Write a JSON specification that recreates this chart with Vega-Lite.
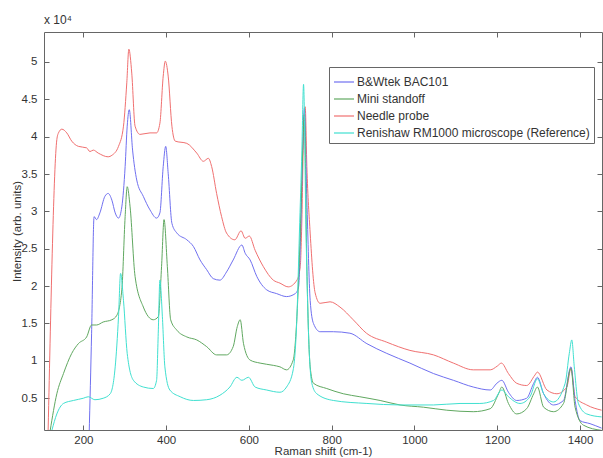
{
"$schema": "https://vega.github.io/schema/vega-lite/v6.json",
"width": 558, "height": 398,
"autosize": {"type": "none"},
"padding": {"left": 44, "top": 32, "right": 1, "bottom": 28},
"background": "white",
"title": {"text": "x 10⁴", "anchor": "start", "frame": "group", "fontSize": 12, "fontWeight": "normal", "font": "Liberation Sans", "color": "#333", "offset": 5},
"config": {
  "view": {"stroke": "#666", "strokeWidth": 1},
  "font": "Liberation Sans",
  "axis": {"domain": false, "grid": false, "tickColor": "#666", "labelColor": "#333", "titleColor": "#333", "labelFontSize": 11.5, "titleFontSize": 11.5, "titleFontWeight": "normal", "tickSize": -5}
},
"data": {"values": [
{"probe":"Needle probe","shift":115,"intensity":700},{"probe":"Needle probe","shift":136,"intensity":39600},{"probe":"Needle probe","shift":140,"intensity":40500},{"probe":"Needle probe","shift":148,"intensity":41000},{"probe":"Needle probe","shift":160,"intensity":40500},{"probe":"Needle probe","shift":172,"intensity":39400},{"probe":"Needle probe","shift":188,"intensity":38700},{"probe":"Needle probe","shift":208,"intensity":38500},{"probe":"Needle probe","shift":216,"intensity":38000},{"probe":"Needle probe","shift":224,"intensity":38200},{"probe":"Needle probe","shift":236,"intensity":37800},{"probe":"Needle probe","shift":260,"intensity":37300},{"probe":"Needle probe","shift":269,"intensity":37500},{"probe":"Needle probe","shift":285,"intensity":38700},{"probe":"Needle probe","shift":297,"intensity":41400},{"probe":"Needle probe","shift":305,"intensity":47200},{"probe":"Needle probe","shift":310,"intensity":51700},{"probe":"Needle probe","shift":317,"intensity":48500},{"probe":"Needle probe","shift":325,"intensity":41400},{"probe":"Needle probe","shift":337,"intensity":40300},{"probe":"Needle probe","shift":361,"intensity":40500},{"probe":"Needle probe","shift":377,"intensity":40500},{"probe":"Needle probe","shift":385,"intensity":41800},{"probe":"Needle probe","shift":393,"intensity":48100},{"probe":"Needle probe","shift":398,"intensity":50100},{"probe":"Needle probe","shift":405,"intensity":48100},{"probe":"Needle probe","shift":414,"intensity":41400},{"probe":"Needle probe","shift":422,"intensity":39400},{"probe":"Needle probe","shift":450,"intensity":39100},{"probe":"Needle probe","shift":474,"intensity":37800},{"probe":"Needle probe","shift":490,"intensity":36700},{"probe":"Needle probe","shift":502,"intensity":37100},{"probe":"Needle probe","shift":510,"intensity":36000},{"probe":"Needle probe","shift":522,"intensity":32400},{"probe":"Needle probe","shift":534,"intensity":29300},{"probe":"Needle probe","shift":546,"intensity":27100},{"probe":"Needle probe","shift":566,"intensity":26200},{"probe":"Needle probe","shift":581,"intensity":27400},{"probe":"Needle probe","shift":591,"intensity":26400},{"probe":"Needle probe","shift":601,"intensity":26700},{"probe":"Needle probe","shift":615,"intensity":24800},{"probe":"Needle probe","shift":635,"intensity":22600},{"probe":"Needle probe","shift":659,"intensity":20800},{"probe":"Needle probe","shift":675,"intensity":20400},{"probe":"Needle probe","shift":695,"intensity":19900},{"probe":"Needle probe","shift":716,"intensity":20800},{"probe":"Needle probe","shift":724,"intensity":22600},{"probe":"Needle probe","shift":728,"intensity":29000},{"probe":"Needle probe","shift":732,"intensity":40500},{"probe":"Needle probe","shift":736,"intensity":44000},{"probe":"Needle probe","shift":740,"intensity":36000},{"probe":"Needle probe","shift":748,"intensity":27100},{"probe":"Needle probe","shift":760,"intensity":19100},{"probe":"Needle probe","shift":772,"intensity":17700},{"probe":"Needle probe","shift":796,"intensity":17900},{"probe":"Needle probe","shift":820,"intensity":17200},{"probe":"Needle probe","shift":852,"intensity":15500},{"probe":"Needle probe","shift":884,"intensity":13700},{"probe":"Needle probe","shift":933,"intensity":12500},{"probe":"Needle probe","shift":989,"intensity":11400},{"probe":"Needle probe","shift":1046,"intensity":10800},{"probe":"Needle probe","shift":1094,"intensity":9700},{"probe":"Needle probe","shift":1142,"intensity":8800},{"probe":"Needle probe","shift":1183,"intensity":8800},{"probe":"Needle probe","shift":1200,"intensity":9300},{"probe":"Needle probe","shift":1210,"intensity":9700},{"probe":"Needle probe","shift":1227,"intensity":8300},{"probe":"Needle probe","shift":1247,"intensity":7000},{"probe":"Needle probe","shift":1271,"intensity":6700},{"probe":"Needle probe","shift":1291,"intensity":8100},{"probe":"Needle probe","shift":1297,"intensity":8500},{"probe":"Needle probe","shift":1320,"intensity":6100},{"probe":"Needle probe","shift":1344,"intensity":5600},{"probe":"Needle probe","shift":1368,"intensity":6500},{"probe":"Needle probe","shift":1378,"intensity":9000},{"probe":"Needle probe","shift":1388,"intensity":5200},{"probe":"Needle probe","shift":1416,"intensity":4100},{"probe":"Needle probe","shift":1452,"intensity":3400},
{"probe":"B&Wtek BAC101","shift":214,"intensity":0},{"probe":"B&Wtek BAC101","shift":220,"intensity":13700},{"probe":"B&Wtek BAC101","shift":226,"intensity":29300},{"probe":"B&Wtek BAC101","shift":232,"intensity":28900},{"probe":"B&Wtek BAC101","shift":240,"intensity":29800},{"probe":"B&Wtek BAC101","shift":252,"intensity":32000},{"probe":"B&Wtek BAC101","shift":260,"intensity":32400},{"probe":"B&Wtek BAC101","shift":269,"intensity":31500},{"probe":"B&Wtek BAC101","shift":277,"intensity":29800},{"probe":"B&Wtek BAC101","shift":285,"intensity":29100},{"probe":"B&Wtek BAC101","shift":293,"intensity":30600},{"probe":"B&Wtek BAC101","shift":301,"intensity":36000},{"probe":"B&Wtek BAC101","shift":306,"intensity":41400},{"probe":"B&Wtek BAC101","shift":311,"intensity":43600},{"probe":"B&Wtek BAC101","shift":319,"intensity":38200},{"probe":"B&Wtek BAC101","shift":329,"intensity":34200},{"probe":"B&Wtek BAC101","shift":345,"intensity":32000},{"probe":"B&Wtek BAC101","shift":361,"intensity":30200},{"probe":"B&Wtek BAC101","shift":377,"intensity":29100},{"probe":"B&Wtek BAC101","shift":385,"intensity":29800},{"probe":"B&Wtek BAC101","shift":393,"intensity":36000},{"probe":"B&Wtek BAC101","shift":399,"intensity":38700},{"probe":"B&Wtek BAC101","shift":405,"intensity":35100},{"probe":"B&Wtek BAC101","shift":414,"intensity":28400},{"probe":"B&Wtek BAC101","shift":426,"intensity":27100},{"probe":"B&Wtek BAC101","shift":450,"intensity":26200},{"probe":"B&Wtek BAC101","shift":466,"intensity":25300},{"probe":"B&Wtek BAC101","shift":482,"intensity":23500},{"probe":"B&Wtek BAC101","shift":498,"intensity":22200},{"probe":"B&Wtek BAC101","shift":514,"intensity":21000},{"probe":"B&Wtek BAC101","shift":530,"intensity":20800},{"probe":"B&Wtek BAC101","shift":546,"intensity":21900},{"probe":"B&Wtek BAC101","shift":562,"intensity":23500},{"probe":"B&Wtek BAC101","shift":583,"intensity":25500},{"probe":"B&Wtek BAC101","shift":591,"intensity":24400},{"probe":"B&Wtek BAC101","shift":603,"intensity":23500},{"probe":"B&Wtek BAC101","shift":619,"intensity":21300},{"probe":"B&Wtek BAC101","shift":643,"intensity":19500},{"probe":"B&Wtek BAC101","shift":667,"intensity":19000},{"probe":"B&Wtek BAC101","shift":691,"intensity":18600},{"probe":"B&Wtek BAC101","shift":712,"intensity":19000},{"probe":"B&Wtek BAC101","shift":720,"intensity":19900},{"probe":"B&Wtek BAC101","shift":725,"intensity":27100},{"probe":"B&Wtek BAC101","shift":730,"intensity":38200},{"probe":"B&Wtek BAC101","shift":734,"intensity":43800},{"probe":"B&Wtek BAC101","shift":740,"intensity":31500},{"probe":"B&Wtek BAC101","shift":748,"intensity":18100},{"probe":"B&Wtek BAC101","shift":756,"intensity":15000},{"probe":"B&Wtek BAC101","shift":772,"intensity":13900},{"probe":"B&Wtek BAC101","shift":804,"intensity":13900},{"probe":"B&Wtek BAC101","shift":844,"intensity":13700},{"probe":"B&Wtek BAC101","shift":885,"intensity":12300},{"probe":"B&Wtek BAC101","shift":933,"intensity":11000},{"probe":"B&Wtek BAC101","shift":989,"intensity":9700},{"probe":"B&Wtek BAC101","shift":1046,"intensity":8300},{"probe":"B&Wtek BAC101","shift":1094,"intensity":7400},{"probe":"B&Wtek BAC101","shift":1142,"intensity":6500},{"probe":"B&Wtek BAC101","shift":1183,"intensity":6100},{"probe":"B&Wtek BAC101","shift":1199,"intensity":7000},{"probe":"B&Wtek BAC101","shift":1211,"intensity":7400},{"probe":"B&Wtek BAC101","shift":1227,"intensity":5800},{"probe":"B&Wtek BAC101","shift":1247,"intensity":4700},{"probe":"B&Wtek BAC101","shift":1271,"intensity":5000},{"probe":"B&Wtek BAC101","shift":1288,"intensity":7000},{"probe":"B&Wtek BAC101","shift":1297,"intensity":7800},{"probe":"B&Wtek BAC101","shift":1312,"intensity":5600},{"probe":"B&Wtek BAC101","shift":1336,"intensity":4100},{"probe":"B&Wtek BAC101","shift":1360,"intensity":4700},{"probe":"B&Wtek BAC101","shift":1378,"intensity":9200},{"probe":"B&Wtek BAC101","shift":1388,"intensity":4700},{"probe":"B&Wtek BAC101","shift":1400,"intensity":2000},{"probe":"B&Wtek BAC101","shift":1424,"intensity":1600},{"probe":"B&Wtek BAC101","shift":1452,"intensity":1000},
{"probe":"Mini standoff","shift":120,"intensity":700},{"probe":"Mini standoff","shift":136,"intensity":5600},{"probe":"Mini standoff","shift":152,"intensity":8300},{"probe":"Mini standoff","shift":172,"intensity":11000},{"probe":"Mini standoff","shift":188,"intensity":12300},{"probe":"Mini standoff","shift":208,"intensity":13200},{"probe":"Mini standoff","shift":220,"intensity":14800},{"probe":"Mini standoff","shift":232,"intensity":14800},{"probe":"Mini standoff","shift":248,"intensity":15200},{"probe":"Mini standoff","shift":269,"intensity":15500},{"probe":"Mini standoff","shift":281,"intensity":16100},{"probe":"Mini standoff","shift":293,"intensity":19500},{"probe":"Mini standoff","shift":301,"intensity":29300},{"probe":"Mini standoff","shift":306,"intensity":33300},{"probe":"Mini standoff","shift":313,"intensity":30600},{"probe":"Mini standoff","shift":325,"intensity":21300},{"probe":"Mini standoff","shift":345,"intensity":17200},{"probe":"Mini standoff","shift":369,"intensity":15500},{"probe":"Mini standoff","shift":381,"intensity":15900},{"probe":"Mini standoff","shift":389,"intensity":22600},{"probe":"Mini standoff","shift":395,"intensity":28900},{"probe":"Mini standoff","shift":403,"intensity":22600},{"probe":"Mini standoff","shift":411,"intensity":15500},{"probe":"Mini standoff","shift":426,"intensity":14100},{"probe":"Mini standoff","shift":450,"intensity":13200},{"probe":"Mini standoff","shift":474,"intensity":12800},{"probe":"Mini standoff","shift":498,"intensity":11900},{"probe":"Mini standoff","shift":522,"intensity":10800},{"probe":"Mini standoff","shift":546,"intensity":10800},{"probe":"Mini standoff","shift":562,"intensity":11900},{"probe":"Mini standoff","shift":572,"intensity":14600},{"probe":"Mini standoff","shift":579,"intensity":15500},{"probe":"Mini standoff","shift":587,"intensity":12300},{"probe":"Mini standoff","shift":603,"intensity":10100},{"probe":"Mini standoff","shift":627,"intensity":9700},{"probe":"Mini standoff","shift":659,"intensity":9400},{"probe":"Mini standoff","shift":675,"intensity":9200},{"probe":"Mini standoff","shift":691,"intensity":8800},{"probe":"Mini standoff","shift":707,"intensity":10100},{"probe":"Mini standoff","shift":716,"intensity":15900},{"probe":"Mini standoff","shift":724,"intensity":27100},{"probe":"Mini standoff","shift":730,"intensity":38200},{"probe":"Mini standoff","shift":734,"intensity":43000},{"probe":"Mini standoff","shift":740,"intensity":22600},{"probe":"Mini standoff","shift":748,"intensity":9200},{"probe":"Mini standoff","shift":756,"intensity":7000},{"probe":"Mini standoff","shift":788,"intensity":6300},{"probe":"Mini standoff","shift":828,"intensity":5600},{"probe":"Mini standoff","shift":868,"intensity":5200},{"probe":"Mini standoff","shift":917,"intensity":4700},{"probe":"Mini standoff","shift":965,"intensity":4100},{"probe":"Mini standoff","shift":1022,"intensity":3800},{"probe":"Mini standoff","shift":1078,"intensity":3400},{"probe":"Mini standoff","shift":1142,"intensity":3200},{"probe":"Mini standoff","shift":1183,"intensity":3600},{"probe":"Mini standoff","shift":1203,"intensity":5600},{"probe":"Mini standoff","shift":1211,"intensity":6500},{"probe":"Mini standoff","shift":1227,"intensity":4300},{"probe":"Mini standoff","shift":1247,"intensity":2900},{"probe":"Mini standoff","shift":1271,"intensity":3600},{"probe":"Mini standoff","shift":1288,"intensity":5600},{"probe":"Mini standoff","shift":1297,"intensity":6500},{"probe":"Mini standoff","shift":1312,"intensity":3800},{"probe":"Mini standoff","shift":1336,"intensity":3200},{"probe":"Mini standoff","shift":1360,"intensity":4300},{"probe":"Mini standoff","shift":1378,"intensity":9000},{"probe":"Mini standoff","shift":1388,"intensity":3800},{"probe":"Mini standoff","shift":1408,"intensity":1400},{"probe":"Mini standoff","shift":1452,"intensity":700},
{"probe":"Renishaw RM1000 microscope (Reference)","shift":124,"intensity":700},{"probe":"Renishaw RM1000 microscope (Reference)","shift":136,"intensity":2900},{"probe":"Renishaw RM1000 microscope (Reference)","shift":152,"intensity":4300},{"probe":"Renishaw RM1000 microscope (Reference)","shift":176,"intensity":4700},{"probe":"Renishaw RM1000 microscope (Reference)","shift":200,"intensity":5000},{"probe":"Renishaw RM1000 microscope (Reference)","shift":212,"intensity":5200},{"probe":"Renishaw RM1000 microscope (Reference)","shift":228,"intensity":4800},{"probe":"Renishaw RM1000 microscope (Reference)","shift":248,"intensity":5000},{"probe":"Renishaw RM1000 microscope (Reference)","shift":265,"intensity":5600},{"probe":"Renishaw RM1000 microscope (Reference)","shift":277,"intensity":9200},{"probe":"Renishaw RM1000 microscope (Reference)","shift":285,"intensity":15900},{"probe":"Renishaw RM1000 microscope (Reference)","shift":290,"intensity":21700},{"probe":"Renishaw RM1000 microscope (Reference)","shift":297,"intensity":18100},{"probe":"Renishaw RM1000 microscope (Reference)","shift":306,"intensity":11000},{"probe":"Renishaw RM1000 microscope (Reference)","shift":321,"intensity":7400},{"probe":"Renishaw RM1000 microscope (Reference)","shift":345,"intensity":6500},{"probe":"Renishaw RM1000 microscope (Reference)","shift":369,"intensity":6300},{"probe":"Renishaw RM1000 microscope (Reference)","shift":377,"intensity":7400},{"probe":"Renishaw RM1000 microscope (Reference)","shift":381,"intensity":13700},{"probe":"Renishaw RM1000 microscope (Reference)","shift":385,"intensity":20800},{"probe":"Renishaw RM1000 microscope (Reference)","shift":391,"intensity":15900},{"probe":"Renishaw RM1000 microscope (Reference)","shift":397,"intensity":9200},{"probe":"Renishaw RM1000 microscope (Reference)","shift":409,"intensity":6100},{"probe":"Renishaw RM1000 microscope (Reference)","shift":434,"intensity":5200},{"probe":"Renishaw RM1000 microscope (Reference)","shift":466,"intensity":4700},{"probe":"Renishaw RM1000 microscope (Reference)","shift":498,"intensity":4800},{"probe":"Renishaw RM1000 microscope (Reference)","shift":530,"intensity":5400},{"probe":"Renishaw RM1000 microscope (Reference)","shift":554,"intensity":6500},{"probe":"Renishaw RM1000 microscope (Reference)","shift":571,"intensity":7800},{"probe":"Renishaw RM1000 microscope (Reference)","shift":583,"intensity":7400},{"probe":"Renishaw RM1000 microscope (Reference)","shift":599,"intensity":7800},{"probe":"Renishaw RM1000 microscope (Reference)","shift":615,"intensity":6500},{"probe":"Renishaw RM1000 microscope (Reference)","shift":643,"intensity":6100},{"probe":"Renishaw RM1000 microscope (Reference)","shift":675,"intensity":5800},{"probe":"Renishaw RM1000 microscope (Reference)","shift":691,"intensity":6500},{"probe":"Renishaw RM1000 microscope (Reference)","shift":707,"intensity":8800},{"probe":"Renishaw RM1000 microscope (Reference)","shift":716,"intensity":15900},{"probe":"Renishaw RM1000 microscope (Reference)","shift":722,"intensity":27100},{"probe":"Renishaw RM1000 microscope (Reference)","shift":728,"intensity":38200},{"probe":"Renishaw RM1000 microscope (Reference)","shift":732,"intensity":47000},{"probe":"Renishaw RM1000 microscope (Reference)","shift":738,"intensity":27100},{"probe":"Renishaw RM1000 microscope (Reference)","shift":744,"intensity":13700},{"probe":"Renishaw RM1000 microscope (Reference)","shift":752,"intensity":7000},{"probe":"Renishaw RM1000 microscope (Reference)","shift":764,"intensity":5600},{"probe":"Renishaw RM1000 microscope (Reference)","shift":804,"intensity":4700},{"probe":"Renishaw RM1000 microscope (Reference)","shift":885,"intensity":4300},{"probe":"Renishaw RM1000 microscope (Reference)","shift":965,"intensity":4100},{"probe":"Renishaw RM1000 microscope (Reference)","shift":1046,"intensity":4100},{"probe":"Renishaw RM1000 microscope (Reference)","shift":1110,"intensity":4300},{"probe":"Renishaw RM1000 microscope (Reference)","shift":1158,"intensity":4300},{"probe":"Renishaw RM1000 microscope (Reference)","shift":1191,"intensity":4700},{"probe":"Renishaw RM1000 microscope (Reference)","shift":1211,"intensity":6100},{"probe":"Renishaw RM1000 microscope (Reference)","shift":1227,"intensity":5200},{"probe":"Renishaw RM1000 microscope (Reference)","shift":1255,"intensity":4300},{"probe":"Renishaw RM1000 microscope (Reference)","shift":1279,"intensity":5200},{"probe":"Renishaw RM1000 microscope (Reference)","shift":1297,"intensity":7600},{"probe":"Renishaw RM1000 microscope (Reference)","shift":1312,"intensity":5600},{"probe":"Renishaw RM1000 microscope (Reference)","shift":1336,"intensity":4500},{"probe":"Renishaw RM1000 microscope (Reference)","shift":1364,"intensity":7000},{"probe":"Renishaw RM1000 microscope (Reference)","shift":1374,"intensity":11000},{"probe":"Renishaw RM1000 microscope (Reference)","shift":1380,"intensity":12800},{"probe":"Renishaw RM1000 microscope (Reference)","shift":1386,"intensity":9200},{"probe":"Renishaw RM1000 microscope (Reference)","shift":1396,"intensity":4300},{"probe":"Renishaw RM1000 microscope (Reference)","shift":1416,"intensity":2900},{"probe":"Renishaw RM1000 microscope (Reference)","shift":1452,"intensity":2500}
]},
"layer": [
  {
    "mark": {"type": "line", "strokeWidth": 1, "clip": true, "interpolate": "monotone"},
    "encoding": {
      "x": {"field": "shift", "type": "quantitative", "scale": {"domain": [105, 1453], "nice": false, "zero": false},
            "axis": {"title": "Raman shift (cm-1)", "values": [200, 400, 600, 800, 1000, 1200, 1400], "format": "d", "labelPadding": 9, "titlePadding": 0}},
      "y": {"field": "intensity", "type": "quantitative", "scale": {"domain": [750, 54000], "nice": false, "zero": false},
            "axis": {"title": "Intensity (arb. units)", "values": [5000, 10000, 15000, 20000, 25000, 30000, 35000, 40000, 45000, 50000], "labelExpr": "datum.value / 10000", "labelPadding": 12, "titlePadding": -1}},
      "color": {"field": "probe", "type": "nominal",
                "scale": {"domain": ["B&Wtek BAC101", "Mini standoff", "Needle probe", "Renishaw RM1000 microscope (Reference)"], "range": ["#7070f0", "#60a860", "#f07070", "#40e0d0"]},
                "legend": {"title": null, "orient": "none", "legendX": 285, "legendY": 35, "fillColor": "white", "strokeColor": "#666", "padding": 4, "symbolType": "stroke", "symbolSize": 400, "symbolStrokeWidth": 1.2, "labelFontSize": 12, "labelColor": "#333", "labelLimit": 400, "rowPadding": -4, "labelOffset": 2}}
    }
  },
  {
    "mark": {"type": "line", "opacity": 0},
    "encoding": {
      "x": {"field": "shift", "type": "quantitative", "scale": {"domain": [105, 1453], "nice": false, "zero": false},
            "axis": {"orient": "top", "labels": false, "title": null, "values": [200, 400, 600, 800, 1000, 1200, 1400]}},
      "y": {"field": "intensity", "type": "quantitative", "scale": {"domain": [750, 54000], "nice": false, "zero": false},
            "axis": {"orient": "right", "labels": false, "title": null, "values": [5000, 10000, 15000, 20000, 25000, 30000, 35000, 40000, 45000, 50000]}},
      "detail": {"field": "probe"}
    }
  }
],
"resolve": {"axis": {"x": "independent", "y": "independent"}}
}
